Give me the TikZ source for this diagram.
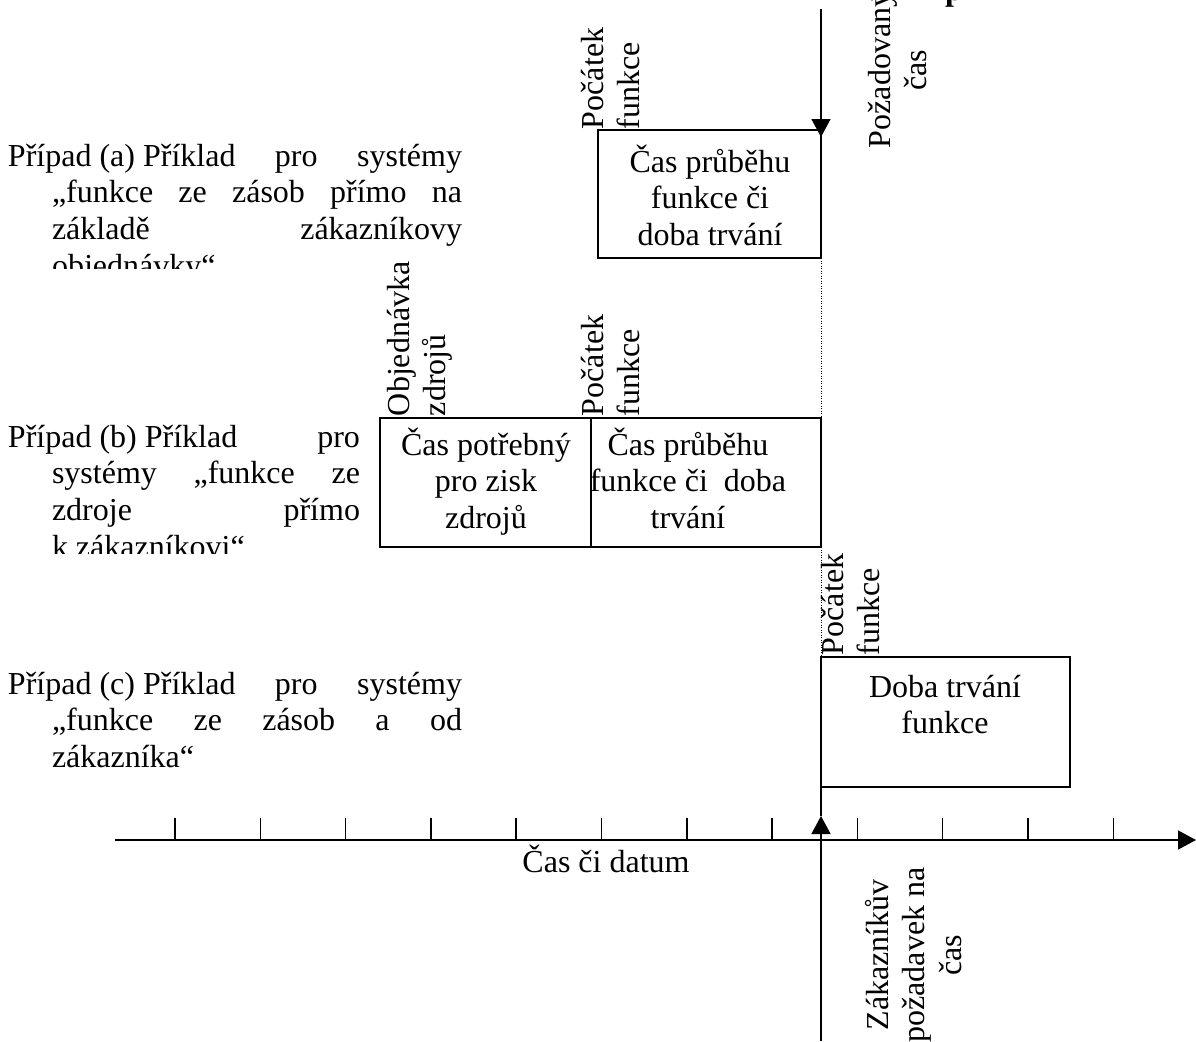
\documentclass[tikz,border=0pt]{standalone}
\usepackage{fontspec}
\setmainfont{Liberation Serif}
\usetikzlibrary{arrows.meta}
\newcommand\myc[1]{\hbox to 400pt{\hss#1\hss}}
\begin{document}
\begin{tikzpicture}[x=1pt,y=-1pt,line width=1.5pt,
  lbl/.style={font=\fontsize{32}{36.8}\selectfont, inner sep=0pt, outer sep=0pt},
  boxnode/.style={draw, line width=1.6pt, inner sep=0pt, outer sep=0pt, anchor=north west},
  vleft/.style={lbl, rotate=90, anchor=base west},
  vcent/.style={lbl, rotate=90, anchor=base},
  arr/.style={-{Triangle[length=18pt,width=19pt]}},
  dotline/.style={line width=1pt, dash pattern=on 1pt off 1.5pt}]
\useasboundingbox (0,0) rectangle (1196,1041);
\clip (0,0) rectangle (1196,1041);

% boxes
\node[boxnode, minimum width=223pt, minimum height=128pt] (boxA) at (598,130) {};
\node[boxnode, minimum width=211pt, minimum height=129pt] (boxBl) at (380,418) {};
\node[boxnode, minimum width=230pt, minimum height=129pt] (boxBr) at (591,418) {};
\node[boxnode, minimum width=249pt, minimum height=130pt] (boxC) at (821,657) {};

% box texts
\node[lbl, anchor=base] (tA) at (710,172) {\vtop{\myc{Čas průběhu}\myc{funkce či}\myc{doba trvání}}};
\node[lbl, anchor=base] (tBl) at (486,455) {\vtop{\myc{Čas potřebný}\myc{pro zisk}\myc{zdrojů}}};
\node[lbl, anchor=base] (tBr) at (688,455) {\vtop{\myc{Čas průběhu}\myc{funkce či\ \ doba}\myc{trvání}}};
\node[lbl, anchor=base] (tC) at (945,697) {\vtop{\myc{Doba trvání}\myc{funkce}}};

% rotated labels
\node[vleft] (startA) at (603,129) {\vtop{\hbox{Počátek}\hbox{funkce}}};
\node[vleft] (orderB) at (409,416) {\vtop{\hbox{Objednávka}\hbox{zdrojů}}};
\node[vleft] (startB) at (603,416) {\vtop{\hbox{Počátek}\hbox{funkce}}};
\node[vleft] (startC) at (843,655) {\vtop{\hbox{Počátek}\hbox{funkce}}};
\node[vcent] (reqtime) at (890,70) {\vtop{\myc{Požadovaný}\myc{čas}}};
\node[vcent] (custreq) at (888,955) {\vtop{\myc{Zákazníkův}\myc{požadavek na}\myc{čas}}};
\node[lbl, anchor=base west, font=\fontsize{32}{36.8}\selectfont\bfseries] (pbold) at (945,1) {p};

% vertical time line
\coordinate (topstart) at (821,9);
\coordinate (toptip) at (821,137);
\draw[arr] (topstart) -- (toptip);
\draw[dotline] (boxA.south east) -- (boxBr.north east);
\draw[dotline] (boxBr.south east) -- (boxC.north west);
\coordinate (reqstart) at (821,1041);
\coordinate (reqtip) at (821,816);
\draw[arr] (reqstart) -- (reqtip);
\draw (reqtip) -- (boxC.south west);

% axis
\coordinate (axstart) at (115,840);
\coordinate (axend) at (1196,840);
\draw[arr] (axstart) -- (axend);
\foreach \i in {0,...,11} {\draw (175+85.3*\i,818) -- (175+85.3*\i,840);}
\node[lbl, anchor=base] (axlabel) at (606,872) {Čas či datum};

% case texts
\begin{scope}
\clip (0,0) rectangle (590,268);
\node[lbl, anchor=base west] (caseA) at (8,166) {\vtop{%
\hbox to 454pt{Případ (a) Příklad\hfill pro\hfill systémy}%
\hbox to 454pt{\kern44pt „funkce\hfill ze\hfill zásob\hfill přímo\hfill na}%
\hbox to 454pt{\kern44pt základě\hfill zákazníkovy}%
\hbox to 454pt{\kern44pt objednávky“\hfill}}};
\end{scope}
\begin{scope}
\clip (0,400) rectangle (375,553);
\node[lbl, anchor=base west] (caseB) at (8,447) {\vtop{%
\hbox to 352pt{Případ (b) Příklad\hfill pro}%
\hbox to 352pt{\kern44pt systémy\hfill „funkce\hfill ze}%
\hbox to 352pt{\kern44pt zdroje\hfill přímo}%
\hbox to 352pt{\kern44pt k zákazníkovi“\hfill}}};
\end{scope}
\node[lbl, anchor=base west] (caseC) at (8,694) {\vtop{%
\hbox to 454pt{Případ (c) Příklad\hfill pro\hfill systémy}%
\hbox to 454pt{\kern44pt „funkce\hfill ze\hfill zásob\hfill a\hfill od}%
\hbox to 454pt{\kern44pt zákazníka“\hfill}}};
\end{tikzpicture}
\end{document}
